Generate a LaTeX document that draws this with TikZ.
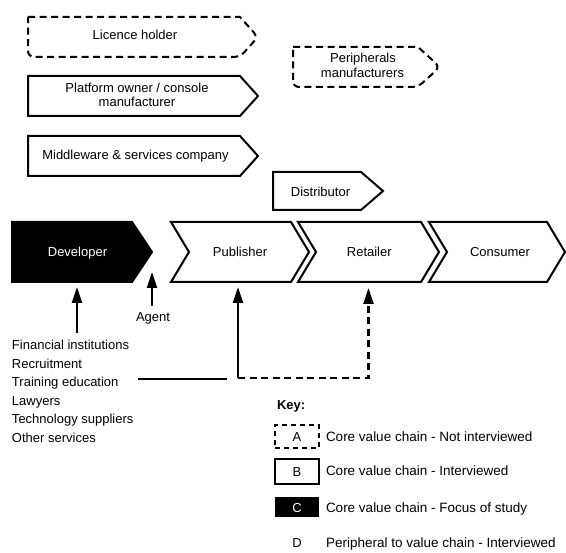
\documentclass[tikz,border=0pt]{standalone}
\usepackage{fontspec}
\setmainfont{Liberation Sans}
\usetikzlibrary{calc,arrows.meta}
\begin{document}
\begin{tikzpicture}[x=1pt,y=-1pt,
  font=\fontsize{13}{15.6}\selectfont,
  shp/.style={inner sep=0pt,outer sep=0pt,draw=none},
  lbl/.style={inner sep=0pt,outer sep=0pt,text height=9.4pt,text depth=0pt},
  keytxt/.style={lbl,anchor=west,font=\fontsize{13.5}{16}\selectfont},
  ln/.style={line width=2pt,line join=miter},
  dsh/.style={ln,dash pattern=on 7pt off 4.5pt},
  arr/.style={line width=2.3pt,-{Triangle[length=16pt,width=10pt]}},
  keybox/.style={lbl,minimum width=44pt,line width=2pt},
  pent/.style 2 args={insert path={(#1.north west) -- ($(#1.north east)-(#2,0)$) -- (#1.east) -- ($(#1.south east)-(#2,0)$) -- (#1.south west) -- cycle}},
  chev/.style 2 args={insert path={(#1.north west) -- ($(#1.north east)-(#2,0)$) -- (#1.east) -- ($(#1.south east)-(#2,0)$) -- (#1.south west) -- ($(#1.west)+(#2,0)$) -- cycle}},
  rpent/.style 2 args={insert path={(#1.north west) -- ($(#1.north east)-(#2,0)$) [rounded corners=6pt] -- (#1.east) -- ($(#1.south east)-(#2,0)$) -- (#1.south west) [sharp corners] -- cycle}},
]
\useasboundingbox (0,0) rectangle (566,553);

% top boxes
\node[shp,minimum width=230pt,minimum height=40pt] (lic) at (143,37) {};
\draw[dsh,rpent={lic}{18}];
\node[lbl] (lict) at (135,35) {Licence holder};

\node[shp,minimum width=230pt,minimum height=40pt] (plat) at (143,96) {};
\draw[ln,pent={plat}{18}];
\node[lbl] (plat1) at (137,88) {Platform owner / console};
\node[lbl] (plat2) at (137,102) {manufacturer};

\node[shp,minimum width=230pt,minimum height=40pt] (mid) at (143,156) {};
\draw[ln,pent={mid}{18}];
\node[lbl] (midt) at (135.5,154.5) {Middleware \& services company};

\node[shp,minimum width=147pt,minimum height=40pt] (per) at (366.5,67) {};
\draw[dsh,rpent={per}{22}];
\node[lbl] (per1) at (363,58.3) {Peripherals};
\node[lbl] (per2) at (362.5,72.7) {manufacturers};

\node[shp,minimum width=110pt,minimum height=38pt] (dist) at (328,191) {};
\draw[ln,pent={dist}{22}];
\node[lbl] (distt) at (320.5,191.7) {Distributor};

% main chain
\node[shp,minimum width=140pt,minimum height=60pt] (dev) at (82,252) {};
\draw[ln,fill=black,pent={dev}{20}];
\node[lbl,text=white] (devt) at (77.5,252.3) {Developer};

\node[shp,minimum width=138pt,minimum height=60pt] (pub) at (240,252) {};
\draw[ln,chev={pub}{18}];
\node[lbl] (pubt) at (240,252.3) {Publisher};

\node[shp,minimum width=141pt,minimum height=60pt] (ret) at (368.5,252) {};
\draw[ln,chev={ret}{18}];
\node[lbl] (rett) at (369.3,252.3) {Retailer};

\node[shp,minimum width=136pt,minimum height=60pt] (con) at (497,252) {};
\draw[ln,chev={con}{18}];
\node[lbl] (cont) at (500,252.3) {Consumer};

% agent
\node[lbl] (agt) at (153,317.3) {Agent};
\draw[arr] ($(agt.north)+(-1,-7)$) -- ($(dev.east)+(0,20)$);

% services
\node[lbl,anchor=west] (s1) at (12,345.3) {Financial institutions};
\node[lbl,anchor=west] (s2) at (12,363.7) {Recruitment};
\node[lbl,anchor=west] (s3) at (12,382.3) {Training education};
\node[lbl,anchor=west] (s4) at (12,401) {Lawyers};
\node[lbl,anchor=west] (s5) at (12,419.3) {Technology suppliers};
\node[lbl,anchor=west] (s6) at (12,438.3) {Other services};

\coordinate (devfoot) at (77,333);
\draw[arr] (devfoot) -- ($(devfoot |- dev.south)+(0,5)$);

\coordinate (hl1) at (138,379);
\coordinate (hl2) at (227,379);
\draw[ln] (hl1) -- (hl2);
\coordinate (junc) at (238,378);
\draw[arr] (junc) -- ($(junc |- pub.south)+(0,5)$);
\draw[arr,dash pattern=on 7pt off 4.5pt] (junc) -- (junc -| ret.south) -- ($(ret.south)+(0,6)$);

% key
\node[lbl,anchor=west,font=\fontsize{13}{15.6}\selectfont\bfseries] (key) at (277,405) {Key:};
\node[keybox,draw,minimum height=23pt,dash pattern=on 5pt off 4pt] (ka) at (297,436.5) {A};
\node[keytxt] (kat) at (326,436.5) {Core value chain - Not interviewed};
\node[keybox,draw,minimum height=25pt] (kb) at (297,472) {B};
\node[keytxt] (kbt) at (326,471) {Core value chain - Interviewed};
\node[keybox,fill=black,text=white,minimum height=20pt] (kc) at (297,507.5) {C};
\node[keytxt] (kct) at (326,508) {Core value chain - Focus of study};
\node[lbl] (kd) at (297,543) {D};
\node[keytxt] (kdt) at (326,543) {Peripheral to value chain - Interviewed};
\end{tikzpicture}
\end{document}
